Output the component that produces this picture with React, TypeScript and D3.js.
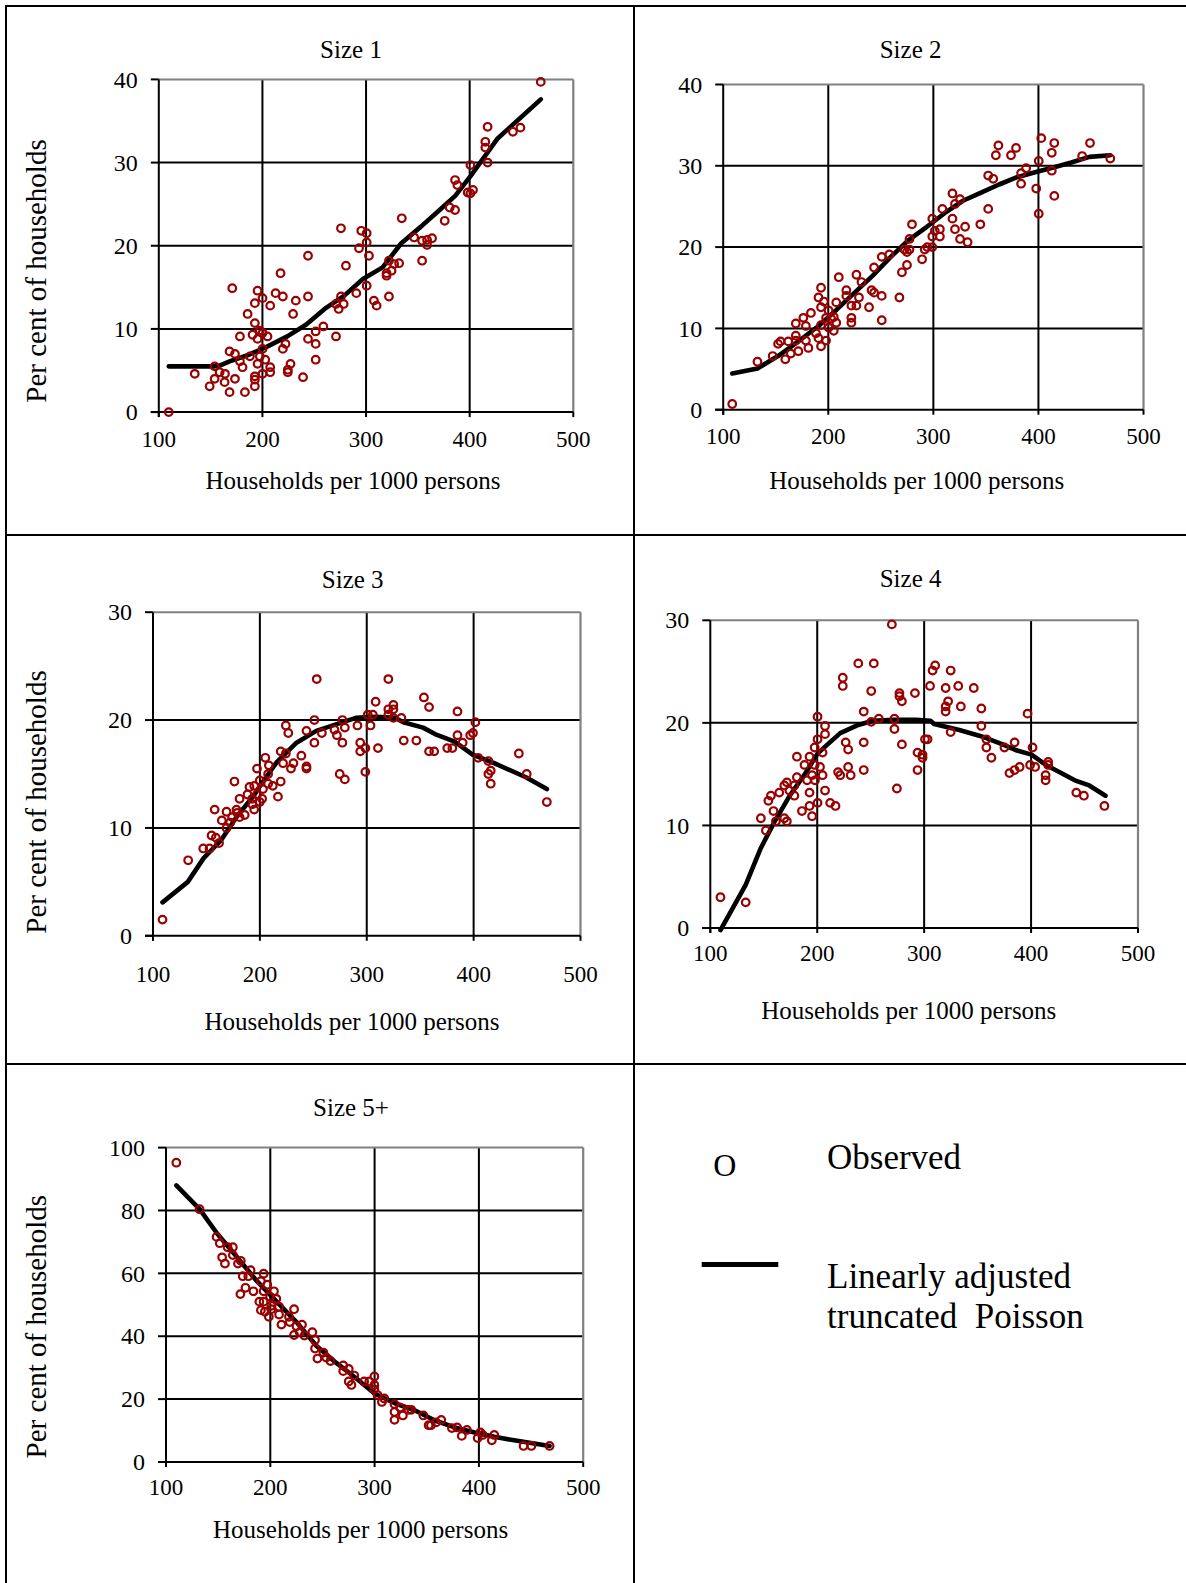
import React from "react";
import * as d3 from "d3";

// ---------------- DATA ----------------
const xTickValues = [100, 200, 300, 400, 500];
const yTicks40 = [0, 10, 20, 30, 40];
const yTicks30 = [0, 10, 20, 30];
const yTicks100 = [0, 20, 40, 60, 80, 100];

const panelTitles = ["Size 1", "Size 2", "Size 3", "Size 4", "Size 5+"];
const xAxisTitle = "Households per 1000 persons";
const yAxisTitle = "Per cent of households";
const legendObserved = "Observed";
const legendFitLines = ["Linearly adjusted", "truncated  Poisson"];

const size1Obs: [number, number][] = [
  [109.6, 0], [134.7, 4.6], [149.1, 3.1], [153.9, 5.5], [153.9, 4.0], [158.7, 4.8], [163.5, 3.6], [163.9, 4.6],
  [168.3, 2.4], [168.3, 7.3], [170.9, 14.9], [173.5, 7.0], [173.5, 4.0], [178.3, 9.1], [178.3, 6.1], [180.8, 5.4],
  [183.1, 2.4], [185.7, 11.8], [187.9, 6.7], [190.5, 9.3], [192.7, 13.1], [192.7, 10.7], [192.7, 4.3], [192.7, 3.9],
  [192.7, 3.1], [195.3, 14.6], [195.3, 8.8], [195.3, 5.8], [197.5, 9.8], [197.5, 6.7], [200.1, 13.7], [200.1, 7.6],
  [200.1, 4.6], [200.1, 9.5], [202.7, 6.3], [204.9, 9.1], [207.5, 12.8], [207.5, 5.4], [207.5, 4.8], [212.7, 14.3],
  [217.5, 16.7], [219.7, 13.9], [219.7, 7.6], [222.3, 8.2], [224.5, 5.1], [224.5, 4.8], [227.1, 5.8], [229.6, 11.8],
  [232.2, 13.4], [239.2, 4.2], [244.0, 18.8], [244.0, 13.9], [244.0, 8.8], [251.4, 8.2], [251.4, 9.7], [251.4, 6.3],
  [258.8, 10.3], [271.0, 9.1], [271.0, 13.0], [273.6, 12.4], [275.8, 22.1], [275.8, 13.9], [278.4, 13.0], [280.6, 17.6],
  [290.6, 14.3], [293.2, 19.7], [295.4, 21.8], [300.6, 21.5], [300.6, 20.4], [300.6, 15.2], [302.8, 18.8], [307.6, 13.4],
  [310.2, 12.8], [319.8, 16.4], [319.8, 16.7], [322.1, 18.2], [322.1, 13.9], [324.6, 17.0], [327.1, 17.8], [331.9, 17.9],
  [334.5, 23.3], [346.4, 21.0], [354.1, 20.6], [354.1, 18.2], [358.9, 20.1], [358.9, 20.7], [363.7, 20.9], [375.9, 23.0],
  [380.7, 24.6], [385.9, 24.3], [385.9, 27.9], [388.1, 27.3], [398.1, 26.4], [400.7, 29.7], [400.7, 26.3], [403.2, 26.7],
  [415.1, 32.5], [415.1, 31.8], [417.3, 34.3], [417.3, 30.0], [441.7, 33.7], [449.0, 34.2], [468.6, 39.7],
];
const size1Fit: [number, number][] = [
  [109.6, 5.5], [134.7, 5.5], [153.9, 5.5], [158.7, 5.6], [168.3, 6.1], [187.0, 6.9], [205.0, 7.9], [224.0, 9.1],
  [242.0, 10.5], [260.0, 12.4], [279.0, 14.0], [297.0, 16.0], [316.0, 17.4], [334.0, 20.3], [353.0, 22.3], [371.0, 24.3],
  [386.0, 26.0], [401.0, 28.4], [427.0, 32.9], [468.6, 37.6],
];

const size2Obs: [number, number][] = [
  [108.6, 0.7], [132.6, 5.9], [147.1, 6.6], [152.2, 8.1], [154.6, 8.4], [159.1, 6.2], [161.9, 8.4], [164.3, 6.9],
  [169.1, 10.6], [169.1, 9.1], [169.1, 8.5], [171.5, 7.2], [176.3, 11.3], [178.7, 10.3], [178.7, 8.5], [181.1, 7.6],
  [183.5, 11.9], [188.3, 9.4], [190.7, 13.8], [190.7, 8.8], [193.1, 15.0], [193.1, 12.6], [193.1, 10.4], [193.1, 7.8],
  [195.9, 13.3], [197.9, 11.3], [197.9, 8.5], [200.3, 12.2], [200.3, 10.1], [202.7, 11.2], [205.2, 11.4], [205.2, 9.7],
  [207.6, 13.2], [207.6, 10.7], [210.0, 16.3], [217.2, 14.7], [217.2, 14.0], [222.0, 12.8], [222.0, 11.3], [222.0, 10.7],
  [226.8, 16.6], [226.8, 12.8], [229.2, 13.8], [231.6, 15.7], [238.8, 12.6], [241.2, 14.7], [243.6, 17.5], [243.6, 14.4],
  [250.9, 18.8], [250.9, 14.0], [250.9, 11.0], [258.1, 19.1], [267.7, 13.8], [270.1, 16.9], [272.5, 19.7], [274.9, 19.4],
  [274.9, 17.8], [277.3, 21.0], [277.3, 19.7], [279.7, 22.8], [289.3, 18.5], [291.8, 19.7], [294.2, 20.0], [299.0, 23.5],
  [299.0, 21.3], [299.0, 20.0], [301.4, 22.0], [306.2, 22.2], [306.2, 21.3], [308.6, 24.7], [318.2, 26.6], [318.2, 23.5],
  [320.6, 25.3], [320.6, 22.2], [325.4, 25.9], [325.4, 21.0], [330.2, 22.5], [332.6, 20.6], [344.7, 22.8], [352.2, 24.7],
  [352.2, 28.8], [357.0, 28.4], [359.5, 31.3], [361.9, 32.5], [373.9, 31.3], [378.7, 32.2], [383.5, 29.1], [383.5, 27.8],
  [388.3, 29.7], [397.9, 27.2], [400.3, 30.6], [400.3, 24.1], [402.7, 33.4], [412.7, 31.6], [412.7, 29.4], [415.1, 32.8],
  [415.1, 26.3], [441.6, 31.2], [449.1, 32.8], [468.4, 30.9],
];
const size2Fit: [number, number][] = [
  [108.6, 4.45], [132.6, 5.07], [152.2, 6.6], [173.5, 8.6], [190.7, 10.3], [207.9, 12.3], [225.1, 14.4], [242.3, 16.5],
  [259.5, 18.8], [276.7, 20.9], [293.8, 22.5], [311.0, 24.2], [328.2, 25.7], [345.4, 26.7], [362.5, 27.7], [379.7, 28.6],
  [396.9, 29.2], [414.1, 29.8], [431.3, 30.4], [448.5, 31.1], [468.4, 31.3],
];

const size3Obs: [number, number][] = [
  [108.9, 1.5], [132.9, 7.0], [147.0, 8.1], [152.9, 8.1], [154.8, 9.3], [157.7, 11.7], [158.8, 9.1], [161.8, 8.6],
  [164.4, 10.7], [168.8, 11.5], [168.8, 10.0], [172.2, 10.5], [174.0, 11.0], [176.2, 14.3], [178.1, 11.7], [178.8, 11.4],
  [181.0, 12.7], [181.0, 11.0], [185.8, 11.2], [188.4, 13.1], [190.3, 13.8], [192.9, 12.2], [192.9, 12.7], [194.7, 13.9],
  [194.7, 11.7], [197.3, 13.1], [197.3, 15.5], [199.9, 14.4], [199.9, 12.4], [202.1, 12.7], [202.9, 13.6], [205.1, 16.5],
  [207.7, 15.0], [207.7, 14.1], [208.4, 15.8], [212.1, 13.9], [216.9, 12.9], [219.5, 17.1], [219.5, 14.3], [221.7, 16.0],
  [224.3, 19.5], [224.3, 16.9], [226.6, 18.8], [229.1, 15.5], [231.4, 16.0], [238.8, 16.7], [243.6, 19.0], [243.6, 15.7],
  [243.6, 15.5], [251.0, 20.0], [251.0, 17.9], [253.2, 23.8], [258.0, 18.8], [269.8, 19.1], [272.1, 18.6], [274.7, 15.0],
  [277.2, 20.0], [277.2, 17.9], [279.5, 19.3], [279.5, 14.5], [291.3, 19.5], [293.9, 17.9], [293.9, 17.1], [298.7, 17.4],
  [298.7, 15.2], [300.9, 20.5], [303.5, 19.5], [305.7, 20.5], [308.3, 21.7], [310.5, 17.4], [320.2, 23.8], [320.2, 21.0],
  [320.2, 20.5], [324.9, 21.4], [324.9, 21.0], [324.9, 20.2], [332.4, 20.2], [334.6, 18.1], [346.4, 18.1], [353.5, 22.1],
  [358.3, 21.2], [358.3, 17.1], [363.1, 17.1], [375.3, 17.4], [380.1, 17.4], [384.9, 20.8], [384.9, 18.6], [389.7, 17.9],
  [396.8, 18.6], [399.4, 18.8], [401.6, 19.8], [404.2, 16.5], [413.8, 16.2], [413.8, 15.0], [416.0, 15.3], [416.0, 14.1],
  [442.3, 16.9], [449.7, 15.0], [468.5, 12.4],
];
const size3Fit: [number, number][] = [
  [108.9, 3.1], [132.6, 5.0], [147.4, 7.2], [164.0, 8.9], [178.8, 11.1], [193.6, 12.9], [202.9, 14.3], [215.8, 16.1],
  [234.3, 17.9], [252.8, 19.0], [271.3, 19.6], [289.8, 20.2], [308.3, 20.3], [326.8, 20.2], [334.2, 19.8], [352.7, 19.3],
  [363.8, 18.7], [382.3, 18.0], [399.0, 16.8], [419.3, 16.0], [448.9, 14.7], [468.5, 13.6],
];

const size4Obs: [number, number][] = [
  [109.5, 3.0], [133.1, 2.5], [147.3, 10.7], [152.0, 9.5], [154.3, 12.4], [156.7, 12.9], [159.1, 11.4], [161.4, 10.4],
  [164.5, 13.2], [169.2, 13.9], [169.2, 10.7], [171.6, 14.2], [171.6, 10.4], [174.0, 13.4], [178.6, 13.9], [178.6, 12.9],
  [181.0, 16.7], [181.0, 14.7], [185.7, 11.4], [188.1, 15.9], [190.5, 14.4], [192.8, 16.7], [192.8, 13.2], [192.8, 11.9],
  [195.2, 10.9], [195.2, 14.9], [197.6, 17.6], [197.6, 15.9], [197.9, 14.4], [200.3, 20.6], [200.3, 18.4], [200.3, 12.2],
  [202.6, 15.7], [205.0, 17.1], [205.0, 14.9], [207.3, 19.7], [207.3, 18.9], [207.3, 13.4], [212.1, 12.2], [217.1, 11.9],
  [219.5, 15.2], [221.5, 14.9], [223.9, 24.4], [223.9, 23.6], [226.6, 18.1], [228.9, 17.4], [228.9, 15.7], [231.3, 14.9],
  [238.4, 25.8], [243.5, 21.1], [243.5, 18.1], [243.5, 15.4], [250.5, 23.1], [250.5, 20.1], [252.9, 25.8], [257.6, 20.4],
  [269.8, 29.6], [272.2, 20.4], [272.2, 19.4], [274.5, 13.6], [276.9, 22.9], [276.9, 22.6], [279.2, 22.1], [279.2, 17.9],
  [291.4, 22.9], [293.8, 17.1], [293.8, 15.4], [298.5, 16.9], [298.5, 16.6], [300.8, 18.4], [303.2, 18.4], [305.5, 23.6],
  [307.9, 25.1], [310.3, 25.6], [320.1, 23.4], [320.1, 21.6], [320.1, 21.1], [322.4, 22.1], [324.8, 25.1], [324.8, 19.1],
  [331.9, 23.6], [334.3, 21.6], [346.4, 23.4], [353.5, 21.4], [353.5, 19.7], [358.2, 18.4], [358.2, 17.6], [362.9, 16.6],
  [375.1, 17.6], [379.8, 15.1], [384.6, 15.4], [384.6, 18.1], [389.3, 15.7], [396.7, 20.9], [399.1, 15.9], [401.4, 17.6],
  [403.8, 15.7], [413.6, 14.9], [413.6, 14.4], [416.0, 16.2], [416.0, 15.9], [442.3, 13.2], [449.4, 12.9], [468.6, 11.9],
];
const size4Fit: [number, number][] = [
  [109.5, -0.2], [133.1, 4.2], [147.3, 7.8], [160.8, 10.5], [174.3, 12.9], [187.8, 14.9], [200.3, 17.0], [209.7, 17.9],
  [221.5, 19.0], [238.4, 19.8], [251.9, 20.2], [272.2, 20.3], [292.4, 20.3], [305.9, 20.2], [309.3, 19.9], [332.9, 19.3],
  [353.2, 18.7], [373.4, 17.9], [386.9, 17.3], [400.4, 16.9], [413.9, 15.9], [440.9, 14.4], [454.4, 13.9], [469.6, 12.9],
];

const size5Obs: [number, number][] = [
  [109.9, 95.2], [132.2, 80.4], [148.5, 71.6], [151.6, 69.6], [153.8, 65.1], [156.5, 63.1], [159.1, 68.3], [164.1, 68.3],
  [164.1, 65.8], [169.0, 63.1], [171.3, 53.4], [171.7, 64.0], [173.6, 59.1], [176.2, 55.4], [178.9, 59.1], [181.1, 61.0],
  [183.8, 54.3], [189.5, 51.0], [191.0, 48.3], [191.0, 57.5], [193.6, 59.9], [193.6, 54.3], [193.6, 51.0], [194.8, 47.8],
  [197.1, 56.4], [198.6, 46.2], [199.8, 52.6], [200.9, 49.7], [200.9, 48.6], [203.5, 54.3], [205.8, 51.9], [208.4, 49.4],
  [208.4, 46.9], [210.7, 43.7], [217.9, 46.2], [218.7, 44.5], [222.8, 48.6], [222.8, 40.4], [225.1, 43.2], [228.2, 41.3],
  [230.4, 43.7], [232.7, 40.2], [240.3, 41.3], [242.9, 38.8], [242.9, 36.1], [245.2, 32.9], [250.9, 34.8], [253.6, 33.2],
  [257.7, 32.1], [269.9, 30.7], [269.9, 28.9], [275.2, 29.6], [275.2, 25.6], [277.8, 24.5], [280.5, 27.5], [290.0, 25.6],
  [294.9, 25.6], [299.8, 27.2], [299.8, 24.5], [299.8, 23.1], [302.8, 21.3], [307.0, 19.1], [309.3, 20.2], [319.1, 18.4],
  [319.1, 15.9], [319.1, 13.4], [324.5, 17.3], [327.1, 14.8], [332.4, 16.6], [335.1, 16.6], [346.8, 14.8], [351.8, 11.7],
  [354.0, 11.7], [359.0, 12.6], [363.9, 13.4], [374.1, 10.8], [379.1, 11.0], [383.6, 8.3], [388.5, 10.2], [398.8, 7.6],
  [401.4, 9.4], [403.7, 8.6], [412.4, 6.9], [414.7, 8.6], [442.8, 5.1], [450.3, 5.1], [467.8, 5.1],
];
const size5Fit: [number, number][] = [
  [109.9, 88.0], [132.2, 80.4], [149.2, 72.6], [168.2, 65.1], [187.2, 57.5], [206.1, 51.0], [225.1, 44.5], [244.1, 37.0],
  [263.0, 31.6], [282.0, 26.7], [299.8, 21.8], [319.9, 18.6], [338.9, 16.4], [357.8, 13.2], [376.8, 11.0], [395.8, 9.4],
  [414.7, 8.0], [433.7, 6.9], [467.8, 5.1],
];

// ---------------- LAYOUT ----------------
const W = 1186;
const H = 1583;
const FONT = "'Liberation Serif', 'Times New Roman', Times, serif";
const RED = "#990000";

type Panel = {
  title: string;
  obs: [number, number][];
  fit: [number, number][];
  yTicks: number[];
  x0: number; x1: number; yTop: number; yBot: number;
  titleX: number; titleY: number;
  xTitleX: number; xTitleY: number;
  tickOffset: number;
  yTitle?: { x: number; cy: number };
};

const panels: Panel[] = [
  { title: panelTitles[0], obs: size1Obs, fit: size1Fit, yTicks: yTicks40,
    x0: 158.8, x1: 573.3, yTop: 79.4, yBot: 412.1, titleX: 351, titleY: 57.5,
    xTitleX: 353, xTitleY: 488.5, tickOffset: 35, yTitle: { x: 46, cy: 271 } },
  { title: panelTitles[1], obs: size2Obs, fit: size2Fit, yTicks: yTicks40,
    x0: 723.2, x1: 1143.5, yTop: 84.5, yBot: 409.7, titleX: 910.6, titleY: 57.5,
    xTitleX: 916.8, xTitleY: 488.5, tickOffset: 34 },
  { title: panelTitles[2], obs: size3Obs, fit: size3Fit, yTicks: yTicks30,
    x0: 153, x1: 580.5, yTop: 612.2, yBot: 935.8, titleX: 352.7, titleY: 587.5,
    xTitleX: 352, xTitleY: 1030.4, tickOffset: 46, yTitle: { x: 46, cy: 802 } },
  { title: panelTitles[3], obs: size4Obs, fit: size4Fit, yTicks: yTicks30,
    x0: 710.3, x1: 1138, yTop: 620.3, yBot: 928, titleX: 910.6, titleY: 586.9,
    xTitleX: 908.8, xTitleY: 1019, tickOffset: 33 },
  { title: panelTitles[4], obs: size5Obs, fit: size5Fit, yTicks: yTicks100,
    x0: 166, x1: 583.2, yTop: 1147.6, yBot: 1462, titleX: 351, titleY: 1115.6,
    xTitleX: 360.6, xTitleY: 1537.8, tickOffset: 32.6, yTitle: { x: 46, cy: 1326.7 } },
];

function PanelChart({ p }: { p: Panel }) {
  const yMax = p.yTicks[p.yTicks.length - 1];
  const x = d3.scaleLinear().domain([100, 500]).range([p.x0, p.x1]);
  const y = d3.scaleLinear().domain([0, yMax]).range([p.yBot, p.yTop]);
  const line = d3.line<[number, number]>().x((d) => x(d[0])).y((d) => y(d[1]));
  return (
    <g>
      <text x={p.titleX} y={p.titleY} textAnchor="middle" fontSize={25} fontFamily={FONT} fill="#000">{p.title}</text>
      {p.yTicks.filter((t) => t > 0 && t < yMax).map((t) => (
        <line key={"hy" + t} x1={x(100)} x2={x(500)} y1={y(t)} y2={y(t)} stroke="#000" strokeWidth={2} />
      ))}
      {xTickValues.filter((t) => t > 100 && t < 500).map((t) => (
        <line key={"vx" + t} x1={x(t)} x2={x(t)} y1={y(yMax)} y2={y(0)} stroke="#000" strokeWidth={2} />
      ))}
      <line x1={x(100)} x2={x(500)} y1={y(yMax)} y2={y(yMax)} stroke="#808080" strokeWidth={2} />
      <line x1={x(500)} x2={x(500)} y1={y(yMax)} y2={y(0)} stroke="#808080" strokeWidth={2.2} />
      <line x1={x(100)} x2={x(100)} y1={y(yMax)} y2={y(0) + 5} stroke="#000" strokeWidth={2} />
      <line x1={x(100) - 8} x2={x(500)} y1={y(0)} y2={y(0)} stroke="#000" strokeWidth={2} />
      {p.yTicks.map((t) => (
        <g key={"yt" + t}>
          <line x1={x(100) - 8} x2={x(100)} y1={y(t)} y2={y(t)} stroke="#000" strokeWidth={2} />
          <text x={x(100) - 21} y={y(t)} dy="0.34em" textAnchor="end" fontSize={24} fontFamily={FONT} fill="#000">{t}</text>
        </g>
      ))}
      {xTickValues.map((t) => (
        <g key={"xt" + t}>
          <line x1={x(t)} x2={x(t)} y1={y(0)} y2={y(0) + 5} stroke="#000" strokeWidth={2} />
          <text x={x(t)} y={y(0) + p.tickOffset} textAnchor="middle" fontSize={23} fontFamily={FONT} fill="#000">{t}</text>
        </g>
      ))}
      <path d={line(p.fit) || ""} fill="none" stroke="#000" strokeWidth={4.6} strokeLinejoin="round" strokeLinecap="round" />
      {p.obs.map((d, i) => (
        <circle key={"o" + i} cx={x(d[0])} cy={y(d[1])} r={3.8} fill="none" stroke={RED} strokeWidth={2.2} />
      ))}
      <text x={p.xTitleX} y={p.xTitleY} textAnchor="middle" fontSize={25} fontFamily={FONT} fill="#000">{xAxisTitle}</text>
      {p.yTitle && (
        <text transform={`translate(${p.yTitle.x},${p.yTitle.cy}) rotate(-90)`} textAnchor="middle" fontSize={29} fontFamily={FONT} fill="#000">{yAxisTitle}</text>
      )}
    </g>
  );
}

export default function App() {
  return (
    <svg width={W} height={H} viewBox={`0 0 ${W} ${H}`} style={{ position: "absolute", left: 0, top: 0, display: "block", background: "#fff" }}>
      <rect x={0} y={0} width={W} height={H} fill="#fff" />
      <line x1={6} x2={6} y1={5} y2={H} stroke="#000" strokeWidth={2} />
      <line x1={5} x2={W} y1={6} y2={6} stroke="#000" strokeWidth={2} />
      <line x1={634} x2={634} y1={6} y2={H} stroke="#000" strokeWidth={2} />
      <line x1={6} x2={W} y1={535} y2={535} stroke="#000" strokeWidth={2} />
      <line x1={6} x2={W} y1={1064} y2={1064} stroke="#000" strokeWidth={2} />
      {panels.map((p, i) => <PanelChart key={i} p={p} />)}
      <text x={724.7} y={1176} textAnchor="middle" fontSize={32} fontFamily={FONT} fill="#000">O</text>
      <text x={827} y={1169} fontSize={35} fontFamily={FONT} fill="#000">{legendObserved}</text>
      <line x1={701.7} x2={778.3} y1={1264.5} y2={1264.5} stroke="#000" strokeWidth={5} />
      <text x={827} y={1288} fontSize={35} fontFamily={FONT} fill="#000">{legendFitLines[0]}</text>
      <text x={827} y={1328} fontSize={35} fontFamily={FONT} fill="#000" style={{ whiteSpace: "pre" }}>{legendFitLines[1]}</text>
    </svg>
  );
}
